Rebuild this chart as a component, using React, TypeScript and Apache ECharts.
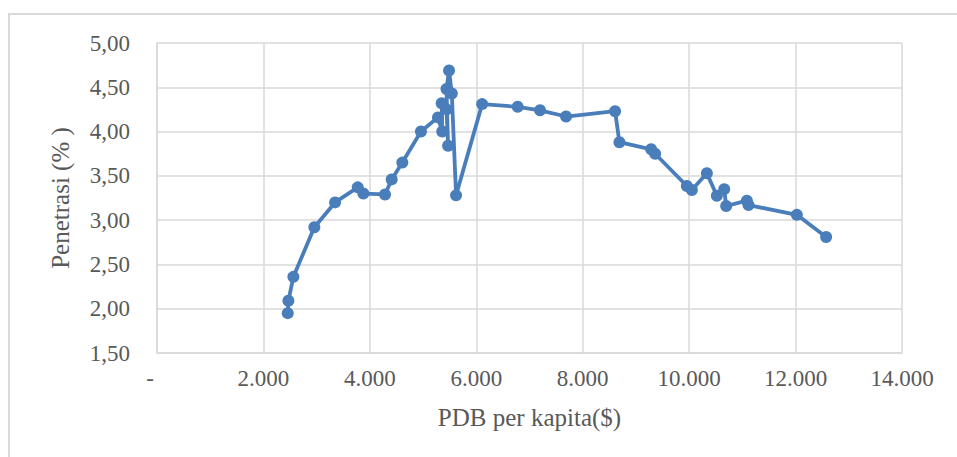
import React, { useEffect, useRef } from "react";
import * as echarts from "echarts";

// PDB per kapita ($) and Penetrasi (%) in data order
const gdpPerCapita: number[] = [
  2457, 2469, 2563, 2957, 3346, 3772, 3878, 4285, 4410, 4610,
  4960, 5280, 5360, 5350, 5440, 5470, 5440, 5488, 5540, 5620,
  6110, 6778, 7198, 7687, 8608, 8690, 9286, 9361, 9957, 10051,
  10333, 10521, 10659, 10696, 11085, 11116, 12024, 12574,
];
const penetration: number[] = [
  1.95, 2.09, 2.36, 2.92, 3.2, 3.37, 3.3, 3.29, 3.46, 3.65,
  4.0, 4.16, 4.0, 4.32, 4.25, 3.84, 4.48, 4.69, 4.43, 3.28,
  4.31, 4.28, 4.24, 4.17, 4.23, 3.88, 3.8, 3.75, 3.385, 3.34,
  3.53, 3.275, 3.35, 3.16, 3.22, 3.17, 3.06, 2.81,
];

const xTitle = "PDB per kapita($)";
const yTitle = "Penetrasi (% )";

const FONT = "'Liberation Serif', 'Times New Roman', serif";

function fmtThousands(v: number): string {
  if (v === 0) return "{d|-}";
  return String(Math.round(v)).replace(/\B(?=(\d{3})+(?!\d))/g, ".");
}

export default function App() {
  const ref = useRef<HTMLDivElement>(null);
  useEffect(() => {
    if (!ref.current) return;
    const chart = echarts.init(ref.current, undefined, { renderer: "svg" });
    const data = gdpPerCapita.map((x, i) => [x, penetration[i]]);
    chart.setOption({
      animation: false,
      backgroundColor: "#ffffff",
      graphic: [
        {
          type: "rect",
          shape: { x: 9, y: 14, width: 1200, height: 1000 },
          style: { fill: "none", stroke: "#d9d9d9", lineWidth: 2 },
          silent: true,
        },
      ],
      grid: { left: 157, right: 55, top: 43, bottom: 104, containLabel: false },
      xAxis: {
        type: "value",
        min: 0,
        max: 14000,
        interval: 2000,
        name: xTitle,
        nameLocation: "middle",
        nameGap: 52,
        nameTextStyle: { fontFamily: FONT, fontSize: 25, color: "#595959" },
        axisLine: { show: true, lineStyle: { color: "#d9d9d9", width: 1.5 } },
        axisTick: { show: false },
        splitLine: { show: true, lineStyle: { color: "#d9d9d9", width: 1.5 } },
        axisLabel: {
          formatter: fmtThousands,
          fontFamily: FONT,
          fontSize: 23,
          color: "#595959",
          margin: 14,
          rich: {
            d: { fontFamily: FONT, fontSize: 23, color: "#595959", padding: [0, 14, 0, 0] },
          },
        },
      },
      yAxis: {
        type: "value",
        min: 1.5,
        max: 5,
        interval: 0.5,
        name: yTitle,
        nameLocation: "middle",
        nameGap: 84,
        nameTextStyle: { fontFamily: FONT, fontSize: 25, color: "#595959" },
        axisLine: { show: true, lineStyle: { color: "#d9d9d9", width: 1.5 } },
        axisTick: { show: false },
        splitLine: { show: true, lineStyle: { color: "#d9d9d9", width: 1.5 } },
        axisLabel: {
          formatter: (v: number) => v.toFixed(2).replace(".", ","),
          fontFamily: FONT,
          fontSize: 23,
          color: "#595959",
          margin: 27,
        },
      },
      series: [
        {
          type: "line",
          data,
          symbol: "circle",
          symbolSize: 12,
          itemStyle: { color: "#4a7ebb" },
          lineStyle: { color: "#4a7ebb", width: 3.8 },
        },
      ],
    });
    return () => chart.dispose();
  }, []);
  return (
    <div
      ref={ref}
      style={{ position: "absolute", left: 0, top: 0, width: 957, height: 457 }}
    />
  );
}
